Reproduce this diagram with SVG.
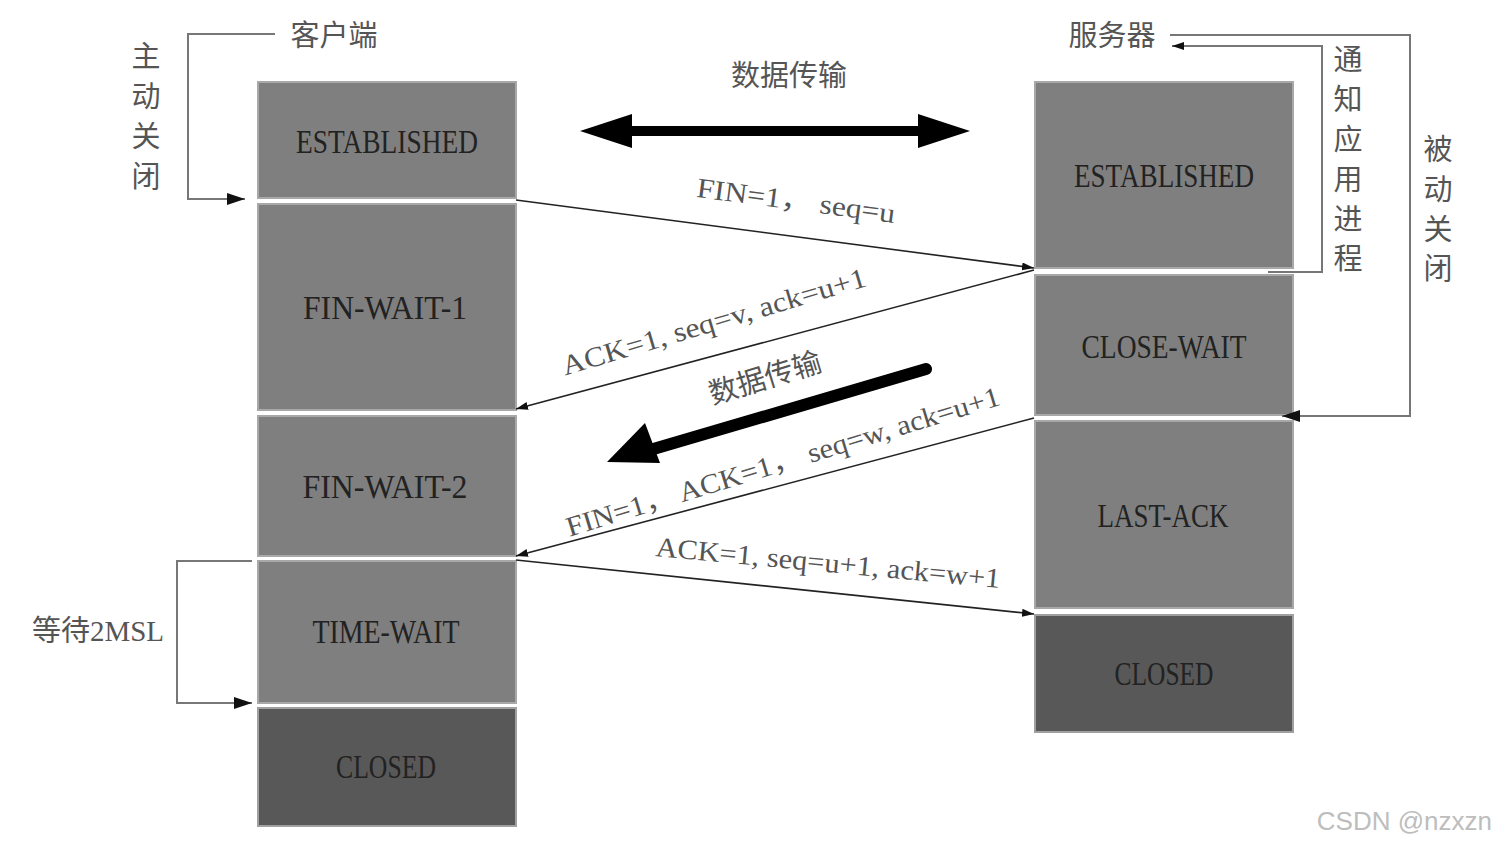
<svg xmlns="http://www.w3.org/2000/svg" width="1497" height="846" viewBox="0 0 1497 846">
<defs>
<marker id="ah" viewBox="0 0 12 8" refX="12" refY="4" markerWidth="12" markerHeight="8" markerUnits="userSpaceOnUse" orient="auto"><path d="M0,0 L12,4 L0,8 z" fill="#111"/></marker>
<marker id="ahb" viewBox="0 0 18 12" refX="18" refY="6" markerWidth="18" markerHeight="12" markerUnits="userSpaceOnUse" orient="auto"><path d="M0,0 L18,6 L0,12 z" fill="#111"/></marker>
<style>
.box{fill:#7f7f7f;stroke:#a8a8a8;stroke-width:2}
.dark{fill:#585858;stroke:#a0a0a0;stroke-width:2}
.st{font-family:"Liberation Serif","Noto Sans CJK SC",serif;font-size:33px;fill:#222;text-anchor:middle}
.cj{font-family:"Noto Sans CJK SC",sans-serif;font-size:29px;fill:#555;text-anchor:middle}
.msg{font-family:"Liberation Serif","Noto Sans CJK SC",serif;font-size:28px;fill:#555;text-anchor:middle}
.ln{fill:none;stroke:#222;stroke-width:1.6}
.br{fill:none;stroke:#777;stroke-width:2}
</style>
</defs>
<rect width="1497" height="846" fill="#fff"/>

<g id="client-label"><text class="cj" x="334" y="46">客户端</text></g>
<g id="server-label"><text class="cj" x="1112" y="46">服务器</text></g>
<g id="active-close"><text class="cj" x="146" y="67">主</text><text class="cj" x="146" y="107">动</text><text class="cj" x="146" y="147">关</text><text class="cj" x="146" y="187">闭</text></g>
<g id="notify-app"><text class="cj" x="1348" y="70">通</text><text class="cj" x="1348" y="110">知</text><text class="cj" x="1348" y="150">应</text><text class="cj" x="1348" y="190">用</text><text class="cj" x="1348" y="230">进</text><text class="cj" x="1348" y="269">程</text></g>
<g id="passive-close"><text class="cj" x="1438" y="160">被</text><text class="cj" x="1438" y="200">动</text><text class="cj" x="1438" y="240">关</text><text class="cj" x="1438" y="279">闭</text></g>
<g id="wait-2msl"><text x="32" y="641" style="font-family:'Noto Sans CJK SC',sans-serif;font-size:29px;fill:#555">等待<tspan style="font-family:'Liberation Serif',serif" textLength="74" lengthAdjust="spacingAndGlyphs">2MSL</tspan></text></g>
<g id="data-top"><text class="cj" x="789" y="86">数据传输</text></g>

<g id="c-established"><rect class="box" x="258" y="82" width="258" height="116"/><text class="st" x="387" y="153" textLength="182" lengthAdjust="spacingAndGlyphs">ESTABLISHED</text></g>
<g id="c-finwait1"><rect class="box" x="258" y="204" width="258" height="206"/><text class="st" x="385" y="319" textLength="164" lengthAdjust="spacingAndGlyphs">FIN-WAIT-1</text></g>
<g id="c-finwait2"><rect class="box" x="258" y="416" width="258" height="140"/><text class="st" x="385" y="498" textLength="165" lengthAdjust="spacingAndGlyphs">FIN-WAIT-2</text></g>
<g id="c-timewait"><rect class="box" x="258" y="561" width="258" height="142"/><text class="st" x="386" y="643" textLength="147" lengthAdjust="spacingAndGlyphs">TIME-WAIT</text></g>
<g id="c-closed"><rect class="dark" x="258" y="708" width="258" height="118"/><text class="st" x="386" y="778" textLength="100" lengthAdjust="spacingAndGlyphs">CLOSED</text></g>

<g id="s-established"><rect class="box" x="1035" y="82" width="258" height="186"/><text class="st" x="1164" y="187" textLength="180" lengthAdjust="spacingAndGlyphs">ESTABLISHED</text></g>
<g id="s-closewait"><rect class="box" x="1035" y="275" width="258" height="140"/><text class="st" x="1164" y="358" textLength="165" lengthAdjust="spacingAndGlyphs">CLOSE-WAIT</text></g>
<g id="s-lastack"><rect class="box" x="1035" y="421" width="258" height="187"/><text class="st" x="1163" y="527" textLength="131" lengthAdjust="spacingAndGlyphs">LAST-ACK</text></g>
<g id="s-closed"><rect class="dark" x="1035" y="615" width="258" height="117"/><text class="st" x="1164" y="685" textLength="99" lengthAdjust="spacingAndGlyphs">CLOSED</text></g>

<g id="connectors">
<path class="br" d="M275,34 H188 V199 H245" marker-end="url(#ahb)"/>
<path class="br" d="M252,561 H177 V703 H252" marker-end="url(#ahb)"/>
<path class="br" d="M1268,272 H1322 V46 H1172" marker-end="url(#ah)"/>
<path class="br" d="M1170,35 H1410 V416 H1282" marker-end="url(#ahb)"/>

<path d="M632,126 H918 V114 L970,131 L918,148 V136 H632 V148 L580,131 L632,114 z" fill="#000"/>

<line class="ln" x1="516" y1="200" x2="1034" y2="268" marker-end="url(#ah)"/>
<line class="ln" x1="1034" y1="270" x2="516" y2="409" marker-end="url(#ah)"/>
<line class="ln" x1="1034" y1="418" x2="516" y2="556" marker-end="url(#ah)"/>
<line class="ln" x1="516" y1="560" x2="1034" y2="614" marker-end="url(#ah)"/>

<line x1="926" y1="369" x2="650" y2="450" stroke="#000" stroke-width="12" stroke-linecap="round"/>
<path d="M607,462 L645,423 L660,463 z" fill="#000"/>

<text class="msg" transform="translate(796,201) rotate(7.5)" y="9" textLength="200" lengthAdjust="spacingAndGlyphs">FIN=1，  seq=u</text>
<text class="msg" transform="translate(714,322) rotate(-16.5)" y="9" textLength="316" lengthAdjust="spacingAndGlyphs">ACK=1, seq=v, ack=u+1</text>
<text class="cj" transform="translate(765,378) rotate(-17)" y="10">数据传输</text>
<text class="msg" transform="translate(783,462) rotate(-17)" y="9" textLength="452" lengthAdjust="spacingAndGlyphs">FIN=1， ACK=1， seq=w, ack=u+1</text>
<text class="msg" transform="translate(828,563) rotate(5.3)" y="9" textLength="346" lengthAdjust="spacingAndGlyphs">ACK=1, seq=u+1, ack=w+1</text>
</g>

<text x="1492" y="830" style="font-family:'Liberation Sans',sans-serif;font-size:26px;fill:#bdbdbd;text-anchor:end">CSDN @nzxzn</text>
</svg>
